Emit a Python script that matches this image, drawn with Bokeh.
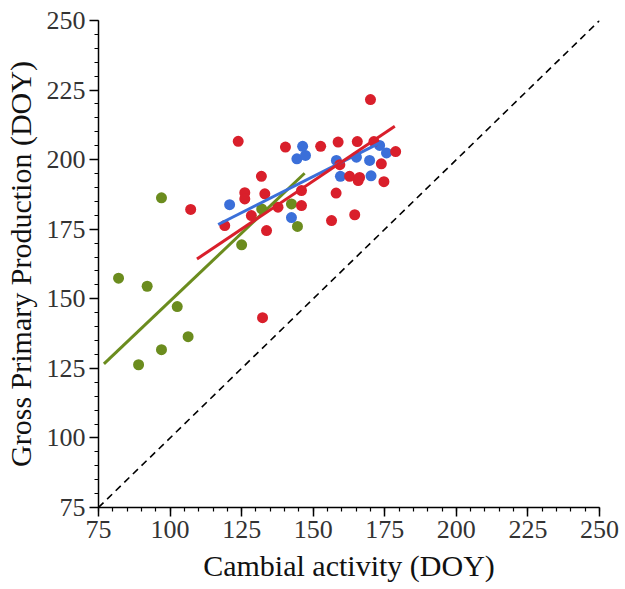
from bokeh.plotting import figure
from bokeh.models import SingleIntervalTicker, Range1d
from bokeh.embed import file_html
from bokeh.resources import INLINE

# ---- data ----
green_x = [82, 89, 92, 97, 97, 102.5, 106.3, 125, 132, 142.4, 144.5]
green_y = [157.4, 126.3, 154.5, 186.3, 131.7, 147.2, 136.4, 169.4, 182.3, 184.1, 176.0]

blue_x = [120.8, 142.4, 146.3, 144.3, 147.3, 158.1, 159.5, 165.1, 169.7, 170.2, 173.2, 175.6]
blue_y = [183.8, 179.2, 204.8, 200.3, 201.5, 199.7, 194.0, 200.9, 199.7, 194.2, 205.1, 202.4]

red_x = [107.2, 123.8, 119.1, 126.1, 126.1, 128.4, 131.9, 133.1, 133.7, 137.7,
         140.3, 145.9, 145.9, 152.6, 156.4, 158.0, 158.7, 159.3, 162.7, 165.4,
         165.7, 166.2, 164.5, 170.0, 171.2, 173.8, 174.7, 178.8, 132.3]
red_y = [182.1, 206.6, 176.3, 188.1, 185.9, 179.9, 194.0, 187.7, 174.5, 182.9,
         204.5, 188.9, 183.5, 204.8, 178.1, 188.0, 206.3, 198.2, 194.0, 206.5,
         192.5, 193.6, 180.2, 221.6, 206.5, 198.5, 192.1, 202.9, 143.2]

green_fit_x = [76.9, 147.0]
green_fit_y = [126.6, 195.1]
blue_fit_x = [116.8, 173.8]
blue_fit_y = [176.7, 206.3]
red_fit_x = [109.4, 178.5]
red_fit_y = [164.3, 212.0]

ref_x = [75, 250]
ref_y = [75, 250]

x_label = "Cambial activity (DOY)"
y_label = "Gross Primary Production (DOY)"

GREEN = "#6b8c1e"
BLUE = "#3b6fd9"
RED = "#d91f2b"
FONT = "Liberation Serif"

p = figure(frame_width=501, frame_height=487,
           x_range=Range1d(75, 250), y_range=Range1d(75, 250),
           output_backend="svg", toolbar_location=None,
           min_border_left=97, min_border_right=20,
           min_border_top=20, min_border_bottom=78)
p.outline_line_color = None
p.grid.visible = False
p.background_fill_color = "white"
p.border_fill_color = "white"

p.line(ref_x, ref_y, line_color="black", line_width=1.6, line_dash="7 5")

p.scatter(green_x, green_y, size=11, fill_color=GREEN, line_color=None)
p.scatter(blue_x, blue_y, size=11, fill_color=BLUE, line_color=None)
p.scatter(red_x, red_y, size=11, fill_color=RED, line_color=None)

p.line(green_fit_x, green_fit_y, line_color=GREEN, line_width=3)
p.line(blue_fit_x, blue_fit_y, line_color=BLUE, line_width=3)
p.line(red_fit_x, red_fit_y, line_color=RED, line_width=3)

for ax in (p.xaxis[0], p.yaxis[0]):
    ax.ticker = SingleIntervalTicker(interval=25, num_minor_ticks=5)
    ax.axis_line_color = "black"
    ax.axis_line_width = 1.5
    ax.major_tick_line_color = "black"
    ax.major_tick_line_width = 1.5
    ax.minor_tick_line_color = "black"
    ax.minor_tick_line_width = 1.2
    ax.major_tick_in = 0
    ax.major_tick_out = 9
    ax.minor_tick_in = 0
    ax.minor_tick_out = 4
    ax.major_label_text_font = FONT
    ax.major_label_text_font_size = "26px"
    ax.major_label_text_color = "#333333"
    ax.major_label_standoff = 4
    ax.axis_label_text_font = FONT
    ax.axis_label_text_font_size = "30px"
    ax.axis_label_text_font_style = "normal"
    ax.axis_label_text_color = "#111111"

p.xaxis[0].axis_label_standoff = 8
p.yaxis[0].axis_label_standoff = 7

p.xaxis.axis_label = x_label
p.yaxis.axis_label = y_label

open("out.html", "w").write(file_html(p, INLINE))
